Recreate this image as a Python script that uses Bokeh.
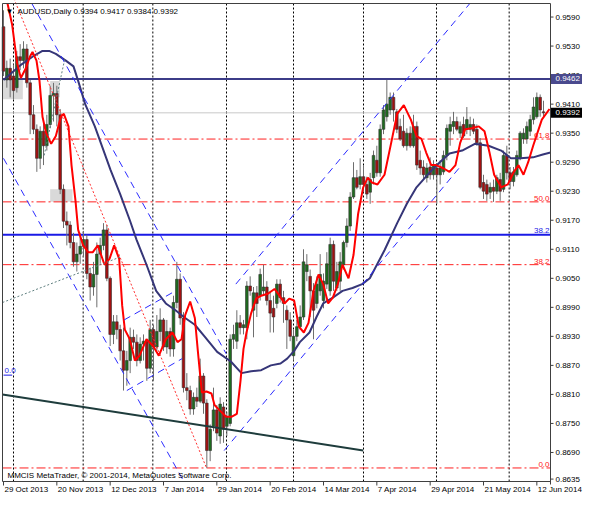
import numpy as np
from bokeh.plotting import figure
from bokeh.models import Range1d
from bokeh.core.properties import value
from bokeh.embed import file_html
from bokeh.resources import INLINE

# ---------------- data ----------------
symbol = "AUDUSD,Daily"
last_ohlc = [0.9394, 0.9417, 0.9384, 0.9392]

opens = [0.9570, 0.9460, 0.9484, 0.9468, 0.9444, 0.9508, 0.9500, 0.9524, 0.9454, 0.9388,
         0.9358, 0.9298, 0.9354, 0.9324, 0.9368, 0.9428, 0.9432, 0.9388, 0.9234, 0.9168,
         0.9160, 0.9124, 0.9084, 0.9100, 0.9116, 0.9130, 0.9060, 0.9032, 0.9058, 0.9100,
         0.9118, 0.9150, 0.9050, 0.8934, 0.8960, 0.8944, 0.8900, 0.8860, 0.8880, 0.8928,
         0.8918, 0.8880, 0.8914, 0.8920, 0.8864, 0.8944, 0.8908, 0.8940, 0.8964, 0.8908,
         0.8940, 0.8904, 0.9000, 0.9048, 0.8968, 0.8824, 0.8818, 0.8780, 0.8804, 0.8796,
         0.8848, 0.8792, 0.8694, 0.8744, 0.8778, 0.8724, 0.8784, 0.8744, 0.8750, 0.8924,
         0.8920, 0.8958, 0.8948, 0.8948, 0.9034, 0.8984, 0.9020, 0.9014, 0.9024, 0.9032,
         0.9004, 0.8988, 0.8998, 0.9038, 0.9010, 0.8984, 0.8964, 0.8890, 0.8930, 0.8950,
         0.8970, 0.9064, 0.9054, 0.9024, 0.8998, 0.9024, 0.9004, 0.9038, 0.9024, 0.9120,
         0.9030, 0.9044, 0.9078, 0.9124, 0.9158, 0.9218, 0.9258, 0.9244, 0.9260, 0.9244,
         0.9228, 0.9258, 0.9294, 0.9268, 0.9358, 0.9384, 0.9398, 0.9424, 0.9394, 0.9364,
         0.9354, 0.9324, 0.9350, 0.9324, 0.9364, 0.9294, 0.9280, 0.9258, 0.9280, 0.9264,
         0.9278, 0.9264, 0.9270, 0.9304, 0.9354, 0.9364, 0.9374, 0.9350, 0.9368, 0.9358,
         0.9358, 0.9368, 0.9358, 0.9330, 0.9248, 0.9244, 0.9228, 0.9238, 0.9230, 0.9254,
         0.9234, 0.9304, 0.9268, 0.9250, 0.9264, 0.9298, 0.9338, 0.9338, 0.9354, 0.9378,
         0.9384, 0.9424, 0.9394]
highs = [0.9604, 0.9500, 0.9504, 0.9492, 0.9520, 0.9534, 0.9540, 0.9534, 0.9460, 0.9408,
         0.9368, 0.9364, 0.9380, 0.9388, 0.9448, 0.9454, 0.9448, 0.9400, 0.9244, 0.9188,
         0.9168, 0.9144, 0.9124, 0.9144, 0.9148, 0.9140, 0.9072, 0.9084, 0.9124, 0.9134,
         0.9164, 0.9160, 0.9054, 0.8974, 0.8974, 0.8954, 0.8948, 0.8900, 0.8948, 0.8944,
         0.8934, 0.8928, 0.8934, 0.8924, 0.8964, 0.8954, 0.8974, 0.8988, 0.8968, 0.8964,
         0.8948, 0.9014, 0.9084, 0.9060, 0.8980, 0.8854, 0.8828, 0.8814, 0.8824, 0.8884,
         0.8854, 0.8800, 0.8748, 0.8824, 0.8788, 0.8804, 0.8794, 0.8774, 0.8934, 0.8954,
         0.8984, 0.8974, 0.8964, 0.9044, 0.9054, 0.9032, 0.9034, 0.9070, 0.9078, 0.9044,
         0.9024, 0.9014, 0.9048, 0.9048, 0.9024, 0.8994, 0.8980, 0.8944, 0.8964, 0.8994,
         0.9110, 0.9100, 0.9068, 0.9040, 0.9054, 0.9100, 0.9060, 0.9104, 0.9134, 0.9128,
         0.9084, 0.9104, 0.9128, 0.9174, 0.9228, 0.9290, 0.9274, 0.9298, 0.9284, 0.9260,
         0.9268, 0.9314, 0.9324, 0.9368, 0.9408, 0.9460, 0.9434, 0.9434, 0.9400, 0.9380,
         0.9388, 0.9360, 0.9364, 0.9388, 0.9374, 0.9314, 0.9294, 0.9288, 0.9300, 0.9294,
         0.9288, 0.9294, 0.9314, 0.9368, 0.9384, 0.9394, 0.9384, 0.9374, 0.9384, 0.9404,
         0.9384, 0.9380, 0.9368, 0.9340, 0.9264, 0.9254, 0.9248, 0.9254, 0.9264, 0.9268,
         0.9314, 0.9324, 0.9280, 0.9280, 0.9314, 0.9354, 0.9360, 0.9374, 0.9388, 0.9424,
         0.9434, 0.9430, 0.9417]
lows = [0.9468, 0.9444, 0.9424, 0.9420, 0.9434, 0.9480, 0.9484, 0.9444, 0.9348, 0.9348,
        0.9270, 0.9276, 0.9284, 0.9314, 0.9360, 0.9374, 0.9364, 0.9224, 0.9154, 0.9118,
        0.9112, 0.9074, 0.9064, 0.9080, 0.9094, 0.9048, 0.9004, 0.9014, 0.8990, 0.9080,
        0.9108, 0.9044, 0.8910, 0.8914, 0.8924, 0.8880, 0.8818, 0.8828, 0.8854, 0.8904,
        0.8868, 0.8874, 0.8880, 0.8838, 0.8854, 0.8838, 0.8900, 0.8920, 0.8900, 0.8894,
        0.8888, 0.8888, 0.8988, 0.8954, 0.8814, 0.8798, 0.8768, 0.8768, 0.8784, 0.8792,
        0.8770, 0.8658, 0.8672, 0.8734, 0.8714, 0.8708, 0.8710, 0.8724, 0.8744, 0.8904,
        0.8904, 0.8934, 0.8934, 0.8924, 0.9014, 0.8928, 0.8970, 0.9004, 0.9014, 0.8994,
        0.8938, 0.8938, 0.8988, 0.9000, 0.8958, 0.8904, 0.8920, 0.8880, 0.8920, 0.8944,
        0.8964, 0.9044, 0.8970, 0.8924, 0.8988, 0.9014, 0.8988, 0.9028, 0.9014, 0.9024,
        0.9024, 0.9024, 0.9068, 0.9114, 0.9148, 0.9214, 0.9234, 0.9234, 0.9228, 0.9214,
        0.9204, 0.9244, 0.9260, 0.9260, 0.9348, 0.9374, 0.9388, 0.9374, 0.9350, 0.9334,
        0.9320, 0.9314, 0.9320, 0.9320, 0.9274, 0.9264, 0.9254, 0.9248, 0.9254, 0.9254,
        0.9204, 0.9244, 0.9264, 0.9294, 0.9324, 0.9348, 0.9354, 0.9340, 0.9340, 0.9348,
        0.9344, 0.9348, 0.9324, 0.9234, 0.9214, 0.9210, 0.9214, 0.9208, 0.9224, 0.9210,
        0.9228, 0.9254, 0.9234, 0.9240, 0.9260, 0.9294, 0.9328, 0.9328, 0.9344, 0.9368,
        0.9380, 0.9384, 0.9384]
closes = [0.9478, 0.9484, 0.9460, 0.9438, 0.9508, 0.9500, 0.9524, 0.9454, 0.9388, 0.9358,
          0.9298, 0.9354, 0.9324, 0.9368, 0.9428, 0.9432, 0.9388, 0.9234, 0.9168, 0.9160,
          0.9124, 0.9084, 0.9100, 0.9116, 0.9130, 0.9060, 0.9032, 0.9058, 0.9100, 0.9118,
          0.9150, 0.9050, 0.8934, 0.8960, 0.8944, 0.8900, 0.8860, 0.8880, 0.8928, 0.8918,
          0.8880, 0.8914, 0.8920, 0.8864, 0.8944, 0.8908, 0.8940, 0.8964, 0.8908, 0.8940,
          0.8904, 0.9000, 0.9048, 0.8968, 0.8824, 0.8818, 0.8780, 0.8804, 0.8796, 0.8848,
          0.8792, 0.8694, 0.8738, 0.8778, 0.8730, 0.8790, 0.8738, 0.8764, 0.8924, 0.8934,
          0.8958, 0.8948, 0.8954, 0.9034, 0.9024, 0.9020, 0.8998, 0.9058, 0.9032, 0.9004,
          0.8978, 0.8970, 0.9038, 0.9010, 0.8998, 0.8964, 0.8930, 0.8930, 0.8950, 0.8970,
          0.9084, 0.9078, 0.9024, 0.8984, 0.9038, 0.9058, 0.9044, 0.9080, 0.9120, 0.9044,
          0.9064, 0.9084, 0.9124, 0.9158, 0.9218, 0.9258, 0.9238, 0.9260, 0.9244, 0.9224,
          0.9254, 0.9304, 0.9268, 0.9358, 0.9398, 0.9410, 0.9424, 0.9398, 0.9358, 0.9338,
          0.9324, 0.9350, 0.9324, 0.9364, 0.9284, 0.9278, 0.9264, 0.9278, 0.9264, 0.9284,
          0.9264, 0.9278, 0.9304, 0.9360, 0.9368, 0.9374, 0.9358, 0.9364, 0.9344, 0.9378,
          0.9368, 0.9354, 0.9330, 0.9238, 0.9230, 0.9224, 0.9238, 0.9230, 0.9258, 0.9230,
          0.9304, 0.9268, 0.9250, 0.9270, 0.9304, 0.9350, 0.9350, 0.9364, 0.9378, 0.9404,
          0.9424, 0.9398, 0.9392]

# fast (red) moving average, sampled along the line: bar index / price
fast_ma_bar = [1.2, 2.6, 4.1, 5.2, 6.7, 7.9, 8.7, 9.9, 10.8, 11.7, 12.8, 14.3, 15.7, 17.2, 18.1,
               19.5, 20.4, 21.6, 22.4, 23.9, 25.4, 26.8, 28.3, 30.3, 31.8, 33.2, 34.7, 35.6, 36.4,
               37.9, 39.4, 40.8, 42.9, 44.9, 46.6, 48.7, 50.7, 52.2, 53.4, 54.5, 56.0, 57.4, 58.3,
               59.5, 60.9, 62.4, 63.3, 64.7, 66.8, 68.5, 70.0, 71.1, 72.0, 72.9, 74.3, 75.8, 77.3,
               79.3, 81.3, 82.8, 84.3, 85.7, 87.2, 88.6, 90.1, 91.5, 93.0, 94.5, 95.9, 97.4, 98.8,
               100.3, 101.7, 103.5, 105.0, 106.4, 107.9, 109.3, 110.5, 112.2, 114.3, 116.3, 118.1,
               120.1, 122.2, 123.9, 125.4, 126.8, 128.3, 129.7, 131.8, 133.8, 135.6, 137.0, 138.5,
               140.5, 142.6, 144.3, 145.8, 147.2, 149.3, 151.3, 153.1, 154.5, 156.0, 157.4, 158.9,
               161.5, 163.8]
fast_ma_val = [0.9618, 0.9574, 0.9494, 0.9464, 0.9484, 0.9508, 0.9518, 0.9500, 0.9458, 0.9384,
               0.9350, 0.9328, 0.9344, 0.9384, 0.9390, 0.9364, 0.9284, 0.9210, 0.9150, 0.9118,
               0.9104, 0.9104, 0.9118, 0.9078, 0.9090, 0.9118, 0.9090, 0.8994, 0.8944, 0.8924,
               0.8880, 0.8890, 0.8924, 0.8910, 0.8890, 0.8924, 0.8938, 0.8918, 0.8924, 0.8974,
               0.9002, 0.8968, 0.8900, 0.8814, 0.8816, 0.8812, 0.8788, 0.8778, 0.8764, 0.8764,
               0.8770, 0.8838, 0.8904, 0.8938, 0.8978, 0.9008, 0.9014, 0.9018, 0.9028, 0.9014,
               0.8998, 0.9008, 0.9004, 0.8950, 0.8938, 0.8958, 0.9024, 0.9058, 0.9038, 0.8998,
               0.9010, 0.9038, 0.9078, 0.9050, 0.9098, 0.9184, 0.9238, 0.9258, 0.9248, 0.9244,
               0.9264, 0.9330, 0.9390, 0.9408, 0.9378, 0.9344, 0.9338, 0.9310, 0.9284, 0.9284,
               0.9278, 0.9270, 0.9284, 0.9330, 0.9358, 0.9360, 0.9364, 0.9354, 0.9310, 0.9264,
               0.9238, 0.9244, 0.9270, 0.9284, 0.9264, 0.9290, 0.9324, 0.9378, 0.9400]

# slow (navy) moving average
slow_ma_bar = [0.0, 5.0, 8.7, 11.7, 13.7, 15.7, 18.7, 21.0, 22.4, 24.5, 27.4, 29.7, 32.1, 35.0,
               37.9, 39.9, 42.9, 45.8, 48.7, 51.6, 54.5, 57.4, 60.3, 64.1, 68.2, 71.4, 74.3, 77.3,
               80.2, 83.1, 85.1, 87.2, 88.9, 91.8, 93.9, 95.9, 98.8, 101.7, 104.7, 107.6, 109.9,
               114.3, 118.1, 121.0, 123.9, 128.0, 130.9, 133.8, 137.6, 141.4, 145.5, 149.3, 152.2,
               155.1, 158.9, 161.8, 164.1]
slow_ma_val = [0.9460, 0.9490, 0.9508, 0.9520, 0.9520, 0.9514, 0.9500, 0.9488, 0.9458, 0.9410,
               0.9364, 0.9320, 0.9274, 0.9224, 0.9170, 0.9130, 0.9078, 0.9024, 0.8998, 0.8984,
               0.8968, 0.8954, 0.8930, 0.8898, 0.8878, 0.8854, 0.8858, 0.8860, 0.8870, 0.8874,
               0.8884, 0.8900, 0.8918, 0.8938, 0.8970, 0.8998, 0.9010, 0.9024, 0.9030, 0.9038,
               0.9050, 0.9108, 0.9164, 0.9204, 0.9238, 0.9270, 0.9290, 0.9308, 0.9314, 0.9328,
               0.9324, 0.9314, 0.9298, 0.9298, 0.9300, 0.9306, 0.9310]

date_bars = [0, 16, 32, 48, 64, 80, 96, 112, 128, 144, 160]
date_labels = ["29 Oct 2013", "20 Nov 2013", "12 Dec 2013", "7 Jan 2014", "29 Jan 2014",
               "20 Feb 2014", "14 Mar 2014", "7 Apr 2014", "29 Apr 2014", "21 May 2014",
               "12 Jun 2014"]
price_ticks = [0.9590, 0.9530, 0.9470, 0.9410, 0.9350, 0.9290, 0.9230, 0.9170, 0.9110,
               0.9050, 0.8990, 0.8930, 0.8870, 0.8810, 0.8750, 0.8690, 0.8635]
grid_bars = [3.0, 23.9, 44.8, 66.9, 87.0, 108.0, 129.9, 151.7]

fib_high, fib_low = 0.9758, 0.8658
fib_high_bar, fib_low_bar = -4.6, 60.9
fib_levels = [61.8, 50.0, 38.2, 0.0]
blue_fib_382 = 0.9140
blue_fib_0 = 0.8854
resistance = 0.9462
bid = last_ohlc[3]

# trend lines: (bar0, bar1), (price0, price1)
down_upper = ([8.5, 66.8], [0.9618, 0.8894])
down_lower = ([0.0, 54.1], [0.9298, 0.8630])
up_upper = ([69.7, 139.9], [0.9038, 0.9618])
up_lower = ([66.2, 136.7], [0.8694, 0.9278])
dec_upper = ([36.2, 51.6], [0.8964, 0.9024])
dec_lower = ([37.0, 53.6], [0.8818, 0.8884])
support_line = ([-0.3, 107.9], [0.8810, 0.8694])
grey_dot1 = ([-0.3, 35.0], [0.9000, 0.9094])
grey_dot2 = ([12.2, 18.4], [0.9304, 0.9504])
grey_boxes = [(-0.3, 5.8, 0.9420, 0.9460), (14.0, 20.7, 0.9208, 0.9234), (14.0, 16.9, 0.9424, 0.9458)]

# ---------------- layout ----------------
W, H = 584, 498
X0, X1 = -0.3, 164.1          # bars shown in the chart window
Y0, Y1 = 0.8630, 0.9618       # prices shown in the chart window
LEFT, RIGHT, TOP, BOTTOM = 2, 34, 3, 17
bx = (X1 - X0) / (W - LEFT - RIGHT)   # bars per pixel
py = (Y1 - Y0) / (H - TOP - BOTTOM)   # price per pixel
FONT = value("Liberation Sans")
AX = "#404040"

p = figure(width=W, height=H,
           x_range=Range1d(X0 - LEFT * bx, X1 + RIGHT * bx),
           y_range=Range1d(Y0 - BOTTOM * py, Y1 + TOP * py),
           output_backend="svg", toolbar_location=None,
           x_axis_location=None, y_axis_location=None, min_border=0)
p.xgrid.grid_line_color = None
p.ygrid.grid_line_color = None
p.outline_line_color = None
p.background_fill_color = "white"
p.border_fill_color = "white"


def txt(x, y, t, color="black", align="left", base="middle"):
    p.text(x=x, y=y, text=t, text_color=color, text_align=align, text_baseline=base,
           text_font=FONT, text_font_size="8px")


# grey boxes (background objects)
for (l, r, b, t) in grey_boxes:
    p.quad(left=l, right=r, bottom=b, top=t, fill_color="#d9d9d9", line_color=None)

# vertical dotted grid
p.segment(x0=grid_bars, y0=[Y0] * len(grid_bars), x1=grid_bars, y1=[Y1] * len(grid_bars),
          line_color="black", line_dash="2 2", line_width=1)

# horizontal levels
p.segment(x0=[X0], y0=[bid], x1=[X1], y1=[bid], line_color="#c8c8c8", line_width=1)
fib_prices = [fib_low + lv / 100.0 * (fib_high - fib_low) for lv in fib_levels]
p.segment(x0=[X0] * 4, y0=fib_prices, x1=[X1] * 4, y1=fib_prices,
          line_color="#ff2020", line_dash="9 3 2 3", line_width=1)
p.segment(x0=[X0], y0=[blue_fib_382], x1=[X1], y1=[blue_fib_382], line_color="#1a1ae6", line_width=2)
p.segment(x0=[X0], y0=[resistance], x1=[X1], y1=[resistance], line_color="#3c3c88", line_width=2)

# candles
idx = np.arange(len(closes))
o = np.array(opens); c = np.array(closes); h = np.array(highs); lo = np.array(lows)
up = c >= o
p.segment(x0=idx, y0=lo, x1=idx, y1=h, line_color="#6e6e6e", line_width=1)
p.vbar(x=idx[up], width=0.8, bottom=o[up], top=c[up], fill_color="#1e6b1e", line_color="#303030", line_width=0.6)
p.vbar(x=idx[~up], width=0.8, bottom=c[~up], top=o[~up], fill_color="#a31010", line_color="#303030", line_width=0.6)

# moving averages
p.line(slow_ma_bar, slow_ma_val, line_color="#363678", line_width=2)
p.line(fast_ma_bar, fast_ma_val, line_color="#ff0000", line_width=2)

# trend lines
for ln in (down_upper, down_lower, up_upper, up_lower, dec_upper, dec_lower):
    p.line(ln[0], ln[1], line_color="#2b2bff", line_dash="7 5", line_width=1)
p.line(support_line[0], support_line[1], line_color="#1e3c3c", line_width=2)
p.line([fib_high_bar, fib_low_bar], [fib_high, fib_low], line_color="#ff3030", line_dash="2 2", line_width=1)
for ln in (grey_dot1, grey_dot2):
    p.line(ln[0], ln[1], line_color="#5f7f7f", line_dash="2 2", line_width=1)
p.line([0.0, 2.6], [blue_fib_0 - 2 * py, blue_fib_0 - 2 * py], line_color="#1a1ae6", line_width=1)

# level labels
txt([X1 - 1 * bx] * 4, [fp + 1 * py for fp in fib_prices], [f"{lv:.1f}" for lv in fib_levels],
    color="#ff2020", align="right", base="bottom")
txt([X1 - 1 * bx], [blue_fib_382 + 2 * py], ["38.2"], color="#1a1ae6", align="right", base="bottom")
txt([X0 + 2 * bx], [blue_fib_0], ["0.0"], color="#1a1ae6", base="bottom")

# header / footer texts
txt([X0 + 3 * bx], [Y1 - 3 * py], ["\u25bc"], base="top")
txt([X0 + 15 * bx], [Y1 - 3 * py], [f"{symbol}  " + " ".join(f"{v:.4f}" for v in last_ohlc)], base="top")
txt([X0 + 5 * bx], [Y0 + 2 * py], ["MMCIS MetaTrader, \u00a9 2001-2014, MetaQuotes Software Corp."], base="bottom")

# chart frame and axes (drawn by hand so labels can sit outside the window)
p.segment(x0=[X0, X0, X0], y0=[Y0, Y1, Y0], x1=[X0, X1, X1], y1=[Y1, Y1, Y0], line_color=AX, line_width=1)
p.segment(x0=[X1], y0=[Y0 - 3 * py], x1=[X1], y1=[Y1], line_color=AX, line_width=1)
# price axis
p.segment(x0=[X1] * len(price_ticks), y0=price_ticks, x1=[X1 + 3 * bx] * len(price_ticks), y1=price_ticks,
          line_color=AX, line_width=1)
txt([X1 + 5 * bx] * len(price_ticks), price_ticks, [f"{t:.4f}" for t in price_ticks])
# date axis
p.segment(x0=date_bars, y0=[Y0] * len(date_bars), x1=date_bars, y1=[Y0 - 4 * py] * len(date_bars),
          line_color=AX, line_width=1)
txt([b + 1 * bx for b in date_bars], [Y0 - 3.5 * py] * len(date_bars), date_labels, base="top")

# highlighted price boxes on the price axis
box_prices = [resistance, bid]
box_colors = ["#4a4a8e", "black"]
p.rect(x=[X1 + 16 * bx] * 2, y=box_prices, width=31 * bx, height=10 * py,
       fill_color=box_colors, line_color=None)
txt([X1 + 5 * bx] * 2, box_prices, [f"{v:.4f}" for v in box_prices], color="white")

open("out.html", "w").write(file_html(p, INLINE))
